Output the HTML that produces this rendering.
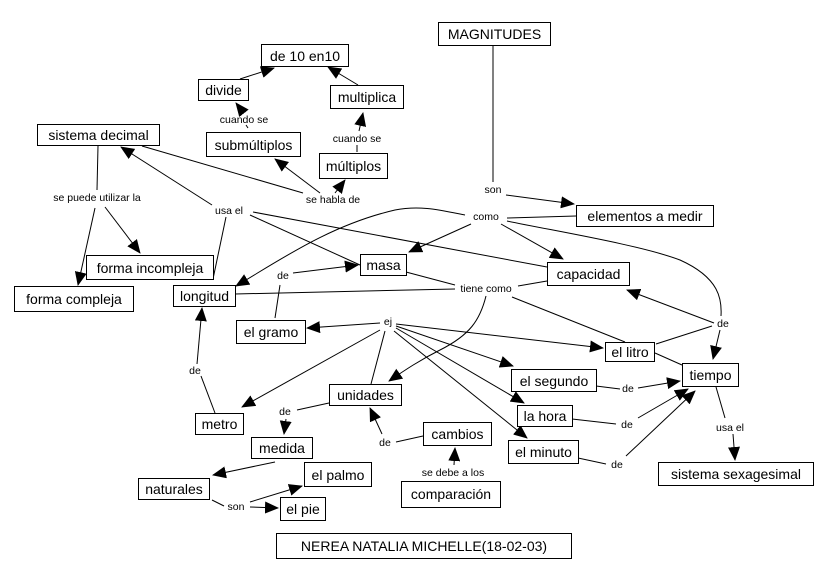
<!DOCTYPE html>
<html><head><meta charset="utf-8"><style>
body{margin:0;background:#fff}
svg{display:block}
text{font-family:"Liberation Sans",sans-serif;fill:#000}
.b{font-size:14px}
.l{font-size:10.5px}
rect{fill:#fff;stroke:#000;stroke-width:1}
path,line{stroke:#000;stroke-width:1;fill:none}
</style></head><body>
<svg width="820" height="578" viewBox="0 0 820 578">
<defs><marker id="a" markerUnits="userSpaceOnUse" markerWidth="14" markerHeight="12" refX="13" refY="6" orient="auto"><path d="M0,0 L14,6 L0,12 Z" style="fill:#000;stroke:none"/></marker></defs>
<g>
<line x1="240" y1="79" x2="274" y2="68" marker-end="url(#a)"/>
<line x1="358" y1="85" x2="328" y2="67" marker-end="url(#a)"/>
<line x1="243" y1="112" x2="236" y2="103" marker-end="url(#a)"/>
<line x1="248" y1="128" x2="246" y2="125"/>
<line x1="357" y1="152" x2="357" y2="145"/>
<line x1="359" y1="131" x2="363" y2="113" marker-end="url(#a)"/>
<line x1="320" y1="193" x2="275" y2="159" marker-end="url(#a)"/>
<line x1="335" y1="193" x2="345" y2="180" marker-end="url(#a)"/>
<line x1="142" y1="146" x2="303" y2="193"/>
<line x1="212" y1="205" x2="121" y2="147" marker-end="url(#a)"/>
<line x1="213" y1="279" x2="226" y2="217"/>
<line x1="250" y1="215" x2="360" y2="265"/>
<line x1="253" y1="212" x2="547" y2="267"/>
<line x1="98" y1="146" x2="97" y2="190"/>
<line x1="105" y1="207" x2="140" y2="253" marker-end="url(#a)"/>
<line x1="95" y1="208" x2="78" y2="285" marker-end="url(#a)"/>
<line x1="493" y1="46" x2="493" y2="182"/>
<line x1="506" y1="195" x2="574" y2="204" marker-end="url(#a)"/>
<line x1="576" y1="216" x2="507" y2="218"/>
<line x1="471" y1="224" x2="409" y2="252" marker-end="url(#a)"/>
<line x1="501" y1="224" x2="563" y2="259" marker-end="url(#a)"/>
<path d="M465,215 C440,210 420,205 395,210 C330,225 280,260 236,286" marker-end="url(#a)"/>
<path d="M507,221 C560,232 640,245 680,260 C720,278 722,300 721,316"/>
<line x1="720" y1="330" x2="713" y2="359" marker-end="url(#a)"/>
<line x1="714" y1="323" x2="627" y2="290" marker-end="url(#a)"/>
<line x1="656" y1="344" x2="712" y2="326"/>
<line x1="655" y1="353" x2="682" y2="365"/>
<line x1="406" y1="272" x2="455" y2="285"/>
<line x1="547" y1="281" x2="518" y2="286"/>
<line x1="235" y1="294" x2="455" y2="289"/>
<line x1="512" y1="297" x2="625" y2="342"/>
<path d="M486,296 C480,320 470,335 440,350 C420,360 405,370 389,381" marker-end="url(#a)"/>
<line x1="275" y1="318" x2="280" y2="285"/>
<line x1="293" y1="273" x2="358" y2="265" marker-end="url(#a)"/>
<line x1="371" y1="384" x2="385" y2="331"/>
<line x1="380" y1="323" x2="307" y2="328" marker-end="url(#a)"/>
<line x1="380" y1="330" x2="242" y2="407" marker-end="url(#a)"/>
<line x1="396" y1="324" x2="603" y2="348" marker-end="url(#a)"/>
<line x1="396" y1="326" x2="513" y2="366" marker-end="url(#a)"/>
<line x1="396" y1="328" x2="524" y2="403" marker-end="url(#a)"/>
<line x1="394" y1="331" x2="527" y2="438" marker-end="url(#a)"/>
<line x1="596" y1="386" x2="620" y2="389"/>
<line x1="638" y1="388" x2="680" y2="381" marker-end="url(#a)"/>
<line x1="572" y1="419" x2="616" y2="424"/>
<line x1="638" y1="418" x2="688" y2="389" marker-end="url(#a)"/>
<line x1="578" y1="458" x2="606" y2="464"/>
<line x1="626" y1="456" x2="695" y2="391" marker-end="url(#a)"/>
<line x1="716" y1="387" x2="725" y2="418"/>
<line x1="733" y1="434" x2="735" y2="460" marker-end="url(#a)"/>
<line x1="215" y1="413" x2="201" y2="376"/>
<line x1="197" y1="364" x2="202" y2="308" marker-end="url(#a)"/>
<line x1="329" y1="403" x2="297" y2="410"/>
<line x1="286" y1="419" x2="284" y2="434" marker-end="url(#a)"/>
<line x1="423" y1="436" x2="396" y2="442"/>
<line x1="382" y1="434" x2="370" y2="408" marker-end="url(#a)"/>
<line x1="454" y1="465" x2="455" y2="448" marker-end="url(#a)"/>
<line x1="275" y1="462" x2="213" y2="475" marker-end="url(#a)"/>
<line x1="212" y1="500" x2="224" y2="506"/>
<line x1="250" y1="502" x2="302" y2="486" marker-end="url(#a)"/>
<line x1="250" y1="507" x2="278" y2="508" marker-end="url(#a)"/>
</g>
<g>
<rect x="438.5" y="22.5" width="112" height="23"/><text class="b" x="494.5" y="39" text-anchor="middle">MAGNITUDES</text>
<rect x="261.5" y="44.5" width="87" height="22"/><text class="b" x="305" y="61" text-anchor="middle">de 10 en10</text>
<rect x="198.5" y="79.5" width="50" height="21"/><text class="b" x="223.5" y="95" text-anchor="middle">divide</text>
<rect x="330.5" y="85.5" width="73" height="23"/><text class="b" x="367" y="102" text-anchor="middle">multiplica</text>
<rect x="37.5" y="124.5" width="122" height="21"/><text class="b" x="98.5" y="140" text-anchor="middle">sistema decimal</text>
<rect x="206.5" y="132.5" width="94" height="24"/><text class="b" x="253.5" y="150" text-anchor="middle">submúltiplos</text>
<rect x="319.5" y="153.5" width="68" height="25"/><text class="b" x="353.5" y="171" text-anchor="middle">múltiplos</text>
<rect x="576.5" y="205.5" width="137" height="21"/><text class="b" x="645" y="221" text-anchor="middle">elementos a medir</text>
<rect x="86.5" y="255.5" width="127" height="24"/><text class="b" x="150" y="273" text-anchor="middle">forma incompleja</text>
<rect x="360.5" y="254.5" width="46" height="21"/><text class="b" x="383.5" y="270" text-anchor="middle">masa</text>
<rect x="547.5" y="262.5" width="82" height="23"/><text class="b" x="588.5" y="279" text-anchor="middle">capacidad</text>
<rect x="14.5" y="286.5" width="119" height="25"/><text class="b" x="74" y="304" text-anchor="middle">forma  compleja</text>
<rect x="173.5" y="285.5" width="62" height="21"/><text class="b" x="204.5" y="301" text-anchor="middle">longitud</text>
<rect x="236.5" y="320.5" width="69" height="23"/><text class="b" x="271" y="337" text-anchor="middle">el gramo</text>
<rect x="605.5" y="342.5" width="49" height="19"/><text class="b" x="630" y="357" text-anchor="middle">el litro</text>
<rect x="682.5" y="363.5" width="56" height="23"/><text class="b" x="710.5" y="380" text-anchor="middle">tiempo</text>
<rect x="511.5" y="369.5" width="85" height="22"/><text class="b" x="554" y="386" text-anchor="middle">el segundo</text>
<rect x="329.5" y="384.5" width="72" height="21"/><text class="b" x="365.5" y="400" text-anchor="middle">unidades</text>
<rect x="195.5" y="413.5" width="48" height="21"/><text class="b" x="219.5" y="429" text-anchor="middle">metro</text>
<rect x="517.5" y="405.5" width="55" height="21"/><text class="b" x="545" y="421" text-anchor="middle">la hora</text>
<rect x="423.5" y="422.5" width="68" height="23"/><text class="b" x="457.5" y="439" text-anchor="middle">cambios</text>
<rect x="508.5" y="440.5" width="70" height="23"/><text class="b" x="543.5" y="457" text-anchor="middle">el minuto</text>
<rect x="251.5" y="437.5" width="61" height="21"/><text class="b" x="282" y="453" text-anchor="middle">medida</text>
<rect x="658.5" y="462.5" width="155" height="23"/><text class="b" x="736" y="479" text-anchor="middle">sistema sexagesimal</text>
<rect x="138.5" y="478.5" width="71" height="21"/><text class="b" x="174" y="494" text-anchor="middle">naturales</text>
<rect x="304.5" y="462.5" width="67" height="24"/><text class="b" x="338" y="480" text-anchor="middle">el palmo</text>
<rect x="401.5" y="481.5" width="99" height="26"/><text class="b" x="451" y="499" text-anchor="middle">comparación</text>
<rect x="280.5" y="497.5" width="45" height="23"/><text class="b" x="303" y="514" text-anchor="middle">el pie</text>
<rect x="276.5" y="533.5" width="295" height="25"/><text class="b" x="424" y="551" text-anchor="middle">NEREA NATALIA MICHELLE(18-02-03)</text>
</g>
<g class="l" text-anchor="middle">
<text class="l" x="244" y="123">cuando se</text>
<text class="l" x="357" y="142">cuando se</text>
<text class="l" x="97" y="201">se puede utilizar la</text>
<text class="l" x="229" y="214">usa el</text>
<text class="l" x="333" y="203">se habla de</text>
<text class="l" x="493" y="193">son</text>
<text class="l" x="486" y="220">como</text>
<text class="l" x="283" y="279">de</text>
<text class="l" x="486" y="292">tiene como</text>
<text class="l" x="388" y="325">ej</text>
<text class="l" x="723" y="327">de</text>
<text class="l" x="195" y="374">de</text>
<text class="l" x="285" y="415">de</text>
<text class="l" x="628" y="392">de</text>
<text class="l" x="627" y="428">de</text>
<text class="l" x="385" y="446">de</text>
<text class="l" x="730" y="431">usa el</text>
<text class="l" x="617" y="468">de</text>
<text class="l" x="453" y="476">se debe a los</text>
<text class="l" x="236" y="510">son</text>
</g>
</svg>
</body></html>
